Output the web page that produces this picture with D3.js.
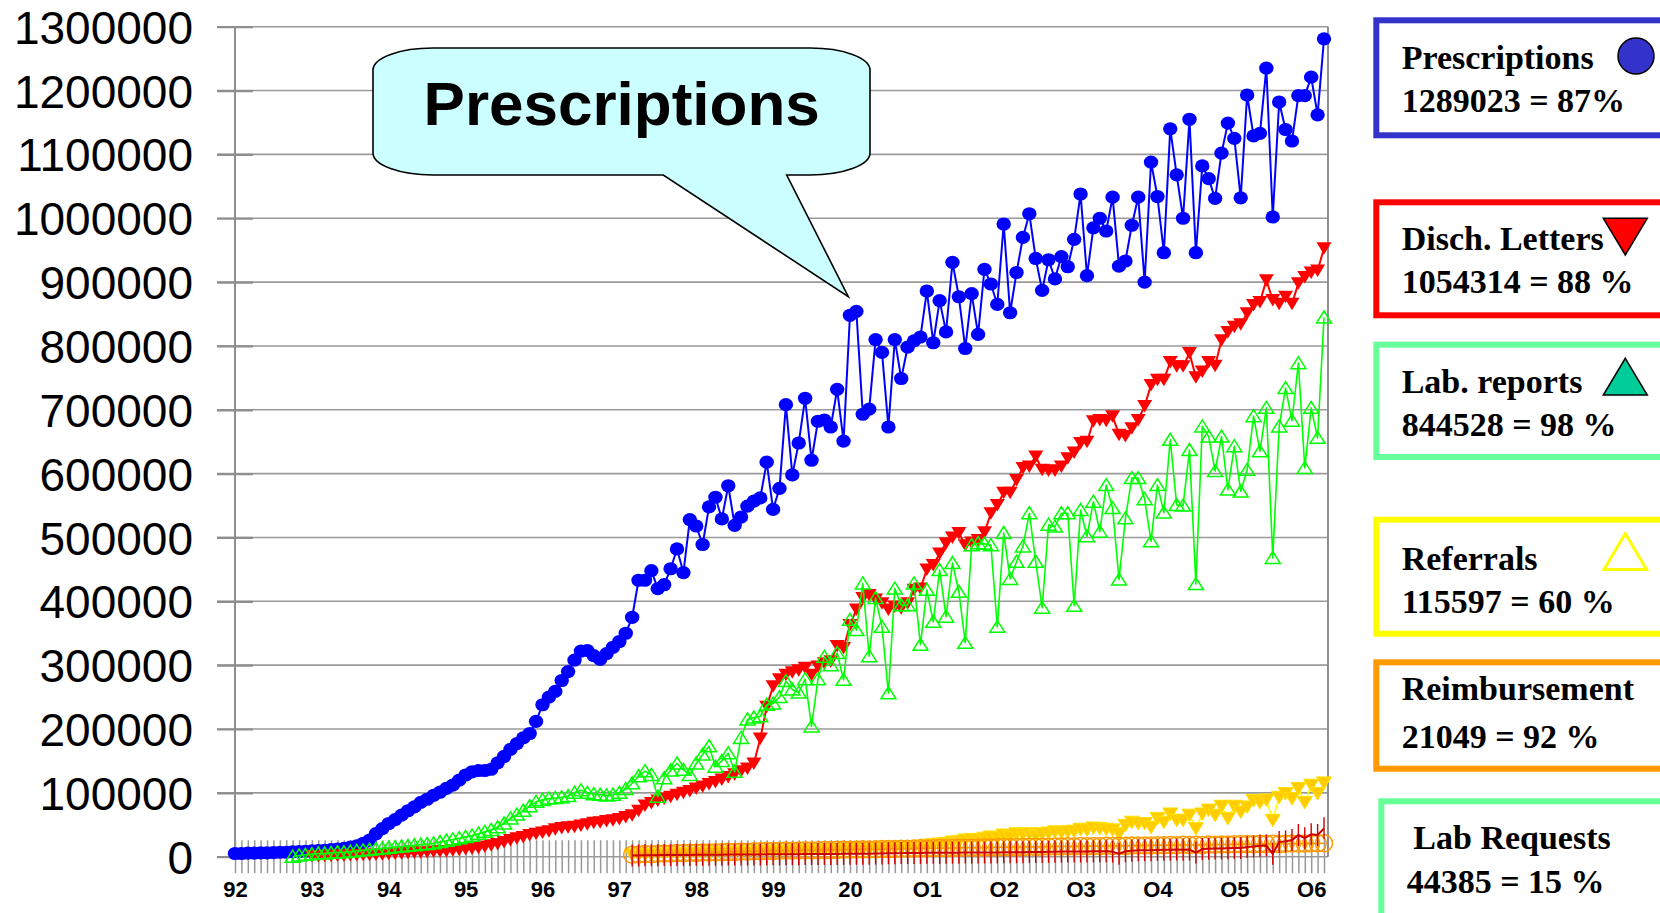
<!DOCTYPE html>
<html><head><meta charset="utf-8">
<script src="https://cdn.jsdelivr.net/npm/d3@7"></script>
<style>html,body{margin:0;padding:0;background:#fff;} svg{display:block;}</style>
</head><body>
<svg id="chart" width="1660" height="913"></svg>
<script>
// ---------- data ----------
const yearLabels = ["92","93","94","95","96","97","98","99","20","O1","O2","O3","O4","O5","O6"];
const monthCount = 171; // Jan 1992 .. Mar 2006
const yTickValues = [0,100000,200000,300000,400000,500000,600000,700000,800000,900000,1000000,1100000,1200000,1300000];

const prescriptionsStart = 0;
const prescriptions = [
  5000,5000,5500,5500,6000,6000,6500,7000,7000,7500,8000,8500,
  9000,9500,10000,11000,12000,13000,15000,17000,21000,26000,36000,44000,
  52000,58000,65000,72000,78000,85000,90000,96000,101000,107000,112000,120000,
  128000,133000,135000,135000,137000,147000,157000,168000,177000,186000,193000,212000,
  238000,250000,259000,276000,290000,308000,322000,323000,315000,309000,318000,328000,
  337000,350000,375000,433000,433000,448000,420000,426000,451000,482000,445000,528000,
  518000,489000,548000,563000,529000,581000,519000,532000,549000,557000,562000,618000,
  544000,577000,708000,598000,648000,718000,621000,682000,684000,673000,732000,651000,
  848000,854000,693000,701000,810000,790000,673000,810000,749000,798000,808000,814000,
  886000,805000,871000,822000,931000,877000,796000,882000,818000,920000,897000,865000,
  991000,852000,915000,970000,1007000,937000,887000,935000,905000,940000,924000,967000,
  1038000,910000,985000,1000000,980000,1033000,925000,933000,989000,1033000,900000,1088000,
  1034000,946000,1140000,1068000,1000000,1155000,946000,1082000,1062000,1031000,1102000,1149000,
  1125000,1032000,1193000,1129000,1133000,1235000,1002000,1182000,1139000,1121000,1192000,1192000,
  1221000,1162000,1281000];

const dischStart = 12;
const dischLetters = [
  1000,1000,1500,1500,2000,2000,2500,2500,3000,3000,3500,4000,
  4500,5000,5500,6000,6500,7000,7500,8000,8500,9000,10000,11000,
  12000,13000,14000,16000,18000,20000,23000,26000,29000,31000,34000,36000,
  38000,40000,43000,45000,46000,47000,49000,51000,53000,54000,56000,57000,
  59000,62000,65000,72000,80000,84000,88000,91000,94000,97000,100000,103000,
  107000,110000,114000,117000,121000,125000,129000,134000,138000,146000,185000,235000,
  267000,278000,285000,289000,292000,296000,285000,298000,303000,306000,330000,327000,
  363000,387000,405000,410000,403000,397000,387000,392000,389000,397000,418000,420000,
  450000,457000,475000,491000,500000,507000,488000,492000,496000,508000,538000,551000,
  570000,570000,590000,609000,611000,627000,606000,605000,605000,611000,624000,633000,
  648000,650000,682000,684000,683000,690000,661000,659000,671000,684000,706000,739000,
  747000,747000,775000,768000,768000,789000,751000,760000,775000,769000,809000,822000,
  830000,834000,851000,864000,869000,903000,872000,866000,877000,866000,898000,908000,
  915000,918000,953000];

const labReportsStart = 9;
const labReports = [
  0,2000,3000,
  4000,5000,5000,6000,7000,7000,8000,9000,10000,11000,12000,13000,
  14000,15000,16000,17000,18000,19000,20000,21000,23000,25000,27000,29000,
  31000,33000,36000,39000,42000,46000,52000,60000,66000,72000,79000,86000,
  89000,91000,92000,93000,95000,100000,104000,100000,98000,97000,96000,97000,
  100000,106000,115000,126000,134000,128000,94000,123000,135000,146000,136000,128000,
  146000,160000,173000,141000,150000,162000,133000,186000,215000,218000,220000,238000,
  240000,250000,275000,262000,257000,278000,204000,278000,313000,300000,319000,277000,
  371000,355000,428000,314000,405000,360000,256000,420000,394000,394000,428000,332000,
  418000,368000,449000,376000,460000,415000,335000,488000,491000,490000,488000,360000,
  507000,435000,462000,486000,538000,462000,390000,520000,517000,538000,538000,393000,
  543000,502000,556000,509000,582000,546000,434000,530000,593000,593000,560000,494000,
  582000,539000,653000,551000,550000,637000,427000,674000,658000,604000,658000,575000,
  643000,572000,606000,690000,635000,703000,468000,674000,734000,683000,773000,609000,
  703000,656000,844528];

const referralsStart = 62;
const referrals = [
  3000,3000,3500,3500,4000,4000,4500,4500,5000,5000,
  5500,5500,6000,6000,6500,6500,7000,7000,7500,7500,8000,8000,
  8500,8500,9000,9000,9500,9500,10000,10000,10500,11000,11000,11500,
  12000,12000,12500,13000,13000,13500,14000,14500,15000,15500,16000,16500,
  18000,19000,20000,21000,23000,24000,26000,27000,27000,29000,31000,30000,
  34000,31000,36000,35000,36000,33000,36000,37000,39000,38000,39000,40000,
  43000,42000,45000,44000,43000,42000,36000,49000,54000,52000,52000,46000,
  60000,54000,67000,57000,57000,65000,44000,67000,73000,65000,79000,60000,
  79000,70000,78000,88000,85000,89000,57000,93000,99000,91000,107000,85000,
  112000,99000,115597];

const reimbursementStart = 62;
const reimbursement = [
  3000,3500,4200,4000,4600,5100,4900,5600,5400,6100,
  6000,6600,6400,7100,6900,7600,7400,8100,7900,8600,8400,9100,
  8900,9200,9600,9400,9700,10100,9900,10200,10600,10400,10700,11100,
  10900,11200,11600,11400,11700,12100,11900,12200,12600,12400,12700,13100,
  12900,13200,13600,13400,13700,14100,13900,14200,14000,14600,14400,14700,
  15100,14900,15200,15000,15600,15400,15700,15500,16100,15900,16200,16000,
  16600,16400,16700,16500,17100,16900,17200,17000,17600,17400,17700,17500,
  18100,17900,18200,18000,18600,18400,18700,18500,19100,18900,19200,19000,
  19600,19400,19700,19500,20100,19900,20200,20000,20300,20600,20400,20700,
  21100,20900,21049];

const labRequestsStart = 62;
const labRequests = [
  2000,2000,2200,2300,2400,2500,2500,2600,2700,2800,
  2900,3000,3000,3100,3200,3300,3300,3400,3500,3500,3600,3700,
  3800,3800,3900,4000,4000,4100,4200,4200,4300,4400,4400,4500,
  4600,4700,4700,4800,4900,5000,5500,5500,5600,5700,5800,5900,
  6000,6000,6100,6200,6200,6300,6400,6400,6500,6600,6600,6700,
  6800,6900,7000,7000,7200,7300,7500,7600,7800,8000,8000,8100,
  8200,8300,8400,8500,8500,8000,4500,8600,9500,10000,10200,10000,
  10500,10800,11000,11200,11000,11300,6500,12000,12500,12800,13000,13200,
  13500,13800,15000,16000,17000,17500,4500,23000,24000,26000,34000,29000,
  35000,34000,44385];

const legendNames = ["Prescriptions","Disch. Letters","Lab. reports","Referrals","Reimbursement","Lab Requests"];
const legendTotals = ["1289023 = 87%","1054314 = 88 %","844528 = 98 %","115597 = 60 %","21049 = 92 %","44385 = 15 %"];
const calloutLabel = "Prescriptions";

// ---------- layout ----------
const svg = d3.select("#chart");
const plotLeft = 235, plotRight = 1328, plotTop = 26.7, plotBottom = 856.7;
const x = d3.scalePoint().domain(d3.range(monthCount)).range([235, 1324]);
const y = d3.scaleLinear().domain([0, 1300000]).range([plotBottom, plotTop]);
const gridColor = "#8e8e8e";

// gridlines
svg.append("g").selectAll("line").data(yTickValues).join("line")
  .attr("x1", plotLeft - 18).attr("x2", plotRight)
  .attr("y1", d => y(d)).attr("y2", d => y(d))
  .attr("stroke", "#9a9a9a").attr("stroke-width", 1.6);

// y axis (ticks crossing)
const gy = svg.append("g").attr("transform", `translate(${plotLeft},0)`)
  .call(d3.axisLeft(y).tickValues(yTickValues).tickSize(18).tickPadding(24).tickFormat(d3.format("d")));
gy.select(".domain").remove();
gy.selectAll(".tick line").attr("x2", 18).attr("x1", -18).attr("stroke", gridColor).attr("stroke-width", 2.2);
gy.selectAll(".tick text").attr("font-family", "'Liberation Sans', Arial, sans-serif")
  .attr("font-size", 46).attr("fill", "#000").attr("x", -42).attr("dy", "0.36em");
svg.append("line").attr("x1", plotLeft).attr("x2", plotLeft).attr("y1", plotTop).attr("y2", plotBottom)
  .attr("stroke", gridColor).attr("stroke-width", 2);
svg.append("line").attr("x1", plotRight).attr("x2", plotRight).attr("y1", plotTop).attr("y2", plotBottom)
  .attr("stroke", gridColor).attr("stroke-width", 2);

// x axis: tick at every month, label each January
const gx = svg.append("g").attr("transform", `translate(0,${plotBottom})`)
  .call(d3.axisBottom(x).tickValues(d3.range(monthCount)).tickSize(16.5).tickPadding(8)
    .tickFormat(i => i % 12 === 0 ? yearLabels[i / 12] : ""));
gx.select(".domain").remove();
gx.selectAll(".tick line").attr("y1", -16.5).attr("stroke", "#999").attr("stroke-width", 1.5);
gx.selectAll(".tick text").attr("font-family", "'Liberation Sans', Arial, sans-serif")
  .attr("font-size", 22).attr("font-weight", "bold").attr("fill", "#000");

// ---------- series ----------
function pts(values, start) { return values.map((v, k) => ({ i: start + k, v })); }
const line = d3.line().x(d => x(d.i)).y(d => y(d.v));
const plot = svg.append("g");

function drawSeries(data, lineColor, lineWidth, markerFn) {
  plot.append("path").datum(data).attr("d", line).attr("fill", "none")
    .attr("stroke", lineColor).attr("stroke-width", lineWidth).attr("stroke-linejoin", "round");
  const g = plot.append("g");
  g.selectAll("g").data(data).join("g")
    .attr("transform", d => `translate(${x(d.i)},${y(d.v)})`)
    .each(function () { markerFn(d3.select(this)); });
}

const downTri = "M-7.5,-6L7.5,-6L0,6.5Z";
const upTri = "M0,-6.5L7.5,5.5L-7.5,5.5Z";

drawSeries(pts(prescriptions, prescriptionsStart), "#0000FF", 2,
  s => s.append("ellipse").attr("rx", 7.2).attr("ry", 6.6).attr("fill", "#0000FF"));
drawSeries(pts(dischLetters, dischStart), "#FF0000", 2,
  s => s.append("path").attr("d", downTri).attr("fill", "#FF0000"));
drawSeries(pts(labReports, labReportsStart), "#00FF00", 1.6,
  s => s.append("path").attr("d", upTri).attr("fill", "none").attr("stroke", "#00FF00").attr("stroke-width", 1.5));
drawSeries(pts(referrals, referralsStart), "#FFFF00", 1.6,
  s => s.append("path").attr("d", downTri).attr("fill", "#FFCC00").attr("stroke", "#FFE000").attr("stroke-width", 1));
drawSeries(pts(reimbursement, reimbursementStart), "#FF9900", 1.6,
  s => s.append("circle").attr("r", 8.5).attr("fill", "none").attr("stroke", "#FF9900").attr("stroke-width", 1.5));
drawSeries(pts(labRequests, labRequestsStart), "#CC0000", 2,
  s => s.append("line").attr("y1", -11).attr("y2", 11).attr("stroke", "#CC0000").attr("stroke-width", 1.4));

// ---------- callout ----------
svg.append("path")
  .attr("d", "M433,48 L810,48 A60,22 0 0 1 870,70 L870,153 A60,22 0 0 1 810,175 L786.7,175 L848.3,296.7 L663.3,175 L433,175 A60,22 0 0 1 373,153 L373,70 A60,22 0 0 1 433,48 Z")
  .attr("fill", "#CCFFFF").attr("stroke", "#000").attr("stroke-width", 1.6).attr("stroke-linejoin", "miter");
svg.append("text").attr("x", 621.7).attr("y", 125).attr("text-anchor", "middle")
  .attr("font-family", "'Liberation Sans', Arial, sans-serif").attr("font-weight", "bold")
  .attr("font-size", 62).attr("fill", "#000").text(calloutLabel);

// ---------- legend boxes ----------
const boxColors = ["#3333CC", "#FF0000", "#66FF99", "#FFFF00", "#FF9900", "#66FF99"];
const boxes = [
  { x: 1376.3, y: 20.3, h: 115, tx: 1401.7, b1: 69.3, tx2: 1401.7, b2: 111.7 },
  { x: 1376.3, y: 202.3, h: 113, tx: 1401.7, b1: 250, tx2: 1401.7, b2: 293.3 },
  { x: 1376.3, y: 344.7, h: 112.3, tx: 1401.7, b1: 393.3, tx2: 1401.7, b2: 436 },
  { x: 1376.3, y: 519.7, h: 114, tx: 1401.7, b1: 570, tx2: 1401.7, b2: 613.3 },
  { x: 1376.3, y: 662.3, h: 106.4, tx: 1401.7, b1: 700, tx2: 1401.7, b2: 748.3 },
  { x: 1381.3, y: 801.3, h: 140, tx: 1413.3, b1: 849.3, tx2: 1406.7, b2: 892.7 }
];
const lg = svg.append("g");
boxes.forEach((b, k) => {
  lg.append("rect").attr("x", b.x).attr("y", b.y).attr("width", 400).attr("height", b.h)
    .attr("fill", "#fff").attr("stroke", boxColors[k]).attr("stroke-width", 6);
  lg.append("text").attr("x", b.tx).attr("y", b.b1).text(legendNames[k]);
  lg.append("text").attr("x", b.tx2).attr("y", b.b2).text(legendTotals[k]);
});
lg.selectAll("text").attr("font-family", "'Liberation Serif', 'Times New Roman', serif")
  .attr("font-weight", "bold").attr("font-size", 34).attr("fill", "#000");

lg.append("circle").attr("cx", 1636).attr("cy", 56).attr("r", 18)
  .attr("fill", "#3333CC").attr("stroke", "#000").attr("stroke-width", 1.5);
lg.append("path").attr("d", "M1603.3,218.3L1647.3,218.3L1625.3,255Z")
  .attr("fill", "#FF0000").attr("stroke", "#000").attr("stroke-width", 1.5);
lg.append("path").attr("d", "M1625.3,358.3L1647.3,395L1603.3,395Z")
  .attr("fill", "#00CC99").attr("stroke", "#000").attr("stroke-width", 1.5);
lg.append("path").attr("d", "M1625.3,533.5L1646.5,569.5L1604,569.5Z")
  .attr("fill", "none").attr("stroke", "#FFFF00").attr("stroke-width", 3);
</script>
</body></html>
